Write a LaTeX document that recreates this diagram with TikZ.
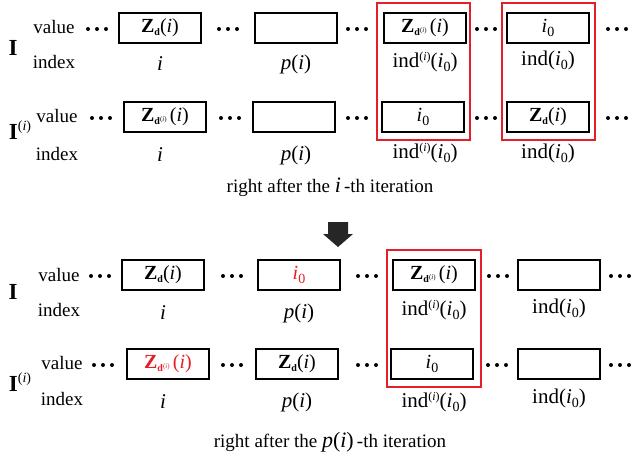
\documentclass[tikz,border=0pt]{standalone}
\usepackage{fontspec}
\setmainfont{Liberation Serif}
\definecolor{myred}{RGB}{230,30,40}
\newcommand{\Zd}{\textbf{Z}\raisebox{-3pt}{\fontsize{10}{10}\selectfont\textbf{d}}(\textit{i})}
\newcommand{\Zdi}{\textbf{Z}\raisebox{-3pt}{\fontsize{10}{10}\selectfont\textbf{d}\raisebox{3pt}{\fontsize{7}{7}\selectfont(\textit{i})}}\,(\textit{i})}
\newcommand{\izero}{\textit{i}\raisebox{-4pt}{\fontsize{14}{14}\selectfont 0}}
\newcommand{\indi}{ind\raisebox{7pt}{\fontsize{12}{12}\selectfont(\textit{i})}(\izero)}
\newcommand{\ind}{ind(\izero)}
\newcommand{\pI}{\textit{p}(\textit{i})}
\tikzset{
  cell/.style={draw,line width=1.6pt,minimum width=82pt,minimum height=30pt,inner sep=0pt,font=\fontsize{20}{20}\selectfont},
  lab/.style={font=\fontsize{21}{21}\selectfont,inner sep=0pt},
  small/.style={font=\fontsize{19}{19}\selectfont,inner sep=0pt},
  dotc/.style={circle,fill,inner sep=0pt,minimum size=4pt},
  redbox/.style={draw=myred,line width=1.6pt},
  big/.style={font=\fontsize{23}{23}\selectfont\bfseries,inner sep=0pt}
}
\begin{document}
\begin{tikzpicture}[x=1pt,y=-1pt]
\useasboundingbox (0,0) rectangle (640,459);
% top
\node[big] (I1) at (13,48) {I};
\node[big] (I2) at (20,130) {I\raisebox{9pt}{\fontsize{14}{14}\selectfont\mdseries(\textit{i})}};
\node[small] (v1) at (54,27) {value};
\node[small] (x1) at (54,62) {index};
\node[small] (v2) at (57,116) {value};
\node[small] (x2) at (57,154) {index};
\node[cell] (a1) at (160,28) {\Zd};
\node[cell] (a2) at (296,28) {};
\node[cell] (a3) at (425,28) {\Zdi};
\node[cell] (a4) at (548,28) {\izero};
\node[cell] (b1) at (165,117) {\Zdi};
\node[cell] (b2) at (294,117) {};
\node[cell] (b3) at (423,117) {\izero};
\node[cell] (b4) at (548,117) {\Zd};
\node[lab] (ia1) at (160,64) {\textit{i}};
\node[lab] (ia2) at (296,64) {\pI};
\node[lab] (ia3) at (425,62) {\indi};
\node[lab] (ia4) at (548,60) {\ind};
\node[lab] (ib1) at (160,155) {\textit{i}};
\node[lab] (ib2) at (296,155) {\pI};
\node[lab] (ib3) at (425,153) {\indi};
\node[lab] (ib4) at (548,153) {\ind};
\foreach \x/\y [count=\k] in {97/29,228/29,357/29,486/29,617/29,101/118,230/118,357/118,486/118,617/118,100/276,232/276,367/276,498/276,620/276,103/365,232/365,367/365,497/365,620/365}
  \foreach \d [count=\j] in {-9,0,9}
    \node[dotc] (d\k-\j) at (\x+\d,\y) {};
\draw[redbox] (377,3) rectangle (470,140);
\draw[redbox] (502,3) rectangle (595,140);
\node[small] (c1) at (330,187) {right after the \fontsize{22}{22}\selectfont\textit{i}\fontsize{19}{19}\selectfont\,-th iteration};
\fill[black!85] (328,222) -- (348,222) -- (348,234) -- (353,234) -- (338,247) -- (323,234) -- (328,234) -- cycle;
% bottom
\node[big] (I3) at (13,292) {I};
\node[big] (I4) at (20,382) {I\raisebox{9pt}{\fontsize{14}{14}\selectfont\mdseries(\textit{i})}};
\node[small] (v3) at (59,275) {value};
\node[small] (x3) at (59,310) {index};
\node[small] (v4) at (62,363) {value};
\node[small] (x4) at (62,399) {index};
\node[cell] (e1) at (163,275) {\Zd};
\node[cell] (e2) at (299,275) {\textcolor{myred}{\izero}};
\node[cell] (e3) at (434,275) {\Zdi};
\node[cell] (e4) at (559,275) {};
\node[cell] (f1) at (168,364) {\color{myred}\Zdi};
\node[cell] (f2) at (297,364) {\Zd};
\node[cell] (f3) at (432,364) {\izero};
\node[cell] (f4) at (559,364) {};
\node[lab] (je1) at (163,313) {\textit{i}};
\node[lab] (je2) at (299,313) {\pI};
\node[lab] (je3) at (434,310) {\indi};
\node[lab] (je4) at (559,308) {\ind};
\node[lab] (jf1) at (163,402) {\textit{i}};
\node[lab] (jf2) at (297,402) {\pI};
\node[lab] (jf3) at (434,402) {\indi};
\node[lab] (jf4) at (559,398) {\ind};
\draw[redbox] (387,250) rectangle (481,387);
\node[small] (c2) at (330,442) {right after the \fontsize{22}{22}\selectfont\pI\fontsize{19}{19}\selectfont\,-th iteration};
\end{tikzpicture}
\end{document}
